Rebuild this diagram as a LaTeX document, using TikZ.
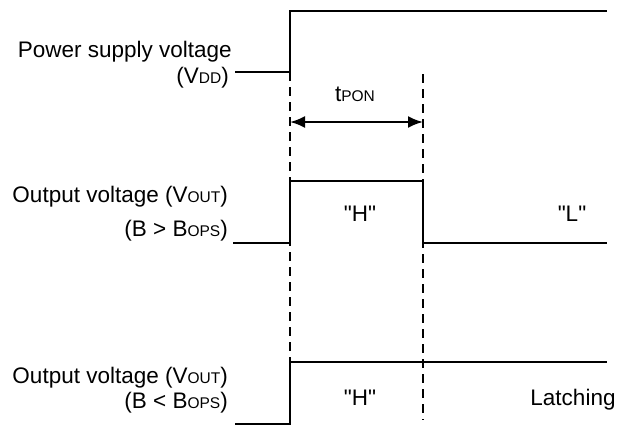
\documentclass[tikz,border=0pt]{standalone}
\usepackage{fontspec}
\setmainfont{Liberation Sans}[Ligatures=TeXOff]
\usepackage{tikz}
\usetikzlibrary{arrows.meta}

\newcommand{\lsub}[1]{{\fontsize{15.5}{15.5}\selectfont #1}}

\begin{document}
\begin{tikzpicture}[x=1pt, y=-1pt, font=\fontsize{22.5}{26}\selectfont,
        wave/.style={line width=2.6pt},
        guide/.style={line width=2pt, dash pattern=on 9pt off 6pt},
        lbl/.style={inner sep=0pt, anchor=base east},
        lvl/.style={inner sep=0pt, anchor=base}]
    \useasboundingbox (0,0) rectangle (635,426);

    % time marks
    \coordinate (T0) at (290,72);
    \coordinate (T1) at (423,74);
    \coordinate (T0b) at (290,362);
    \coordinate (T1b) at (423,420);
    \coordinate (A0) at (290,122);
    \coordinate (A1) at (423,122);

    \draw[guide] (T0) -- (T0b);
    \draw[guide] (T1) -- (T1b);
    \draw[line width=2.2pt, {Latex[length=15pt,width=12pt]}-{Latex[length=15pt,width=12pt]}] (A0) -- (A1);
    \node[lvl] (tpon) at (355,101) {t\lsub{PON}};

    % power supply
    \node[lbl] (vdd1) at (232,57) {Power supply voltage};
    \node[lbl] (vdd2) at (229,83) {(V\lsub{DD})};
    \draw[wave] (235,72) -- (290,72) -- (290,11) -- (607,11);

    % output, B > BOPS
    \node[lbl] (out1) at (228,202) {Output voltage (V\lsub{OUT})};
    \node[lbl] (cnd1) at (228,236) {(B > B\lsub{OPS})};
    \draw[wave] (233,243) -- (290,243) -- (290,181) -- (423,181) -- (423,243) -- (607,243);
    \node[lvl] (hi1) at (360,221) {"H"};
    \node[lvl] (lo1) at (572,221) {"L"};

    % output, B < BOPS
    \node[lbl] (out2) at (228,383) {Output voltage (V\lsub{OUT})};
    \node[lbl] (cnd2) at (228,408) {(B < B\lsub{OPS})};
    \draw[wave] (235,424) -- (290,424) -- (290,362) -- (607,362);
    \node[lvl] (hi2) at (360,405) {"H"};
    \node[lvl] (latch) at (573,405) {Latching};
\end{tikzpicture}
\end{document}
